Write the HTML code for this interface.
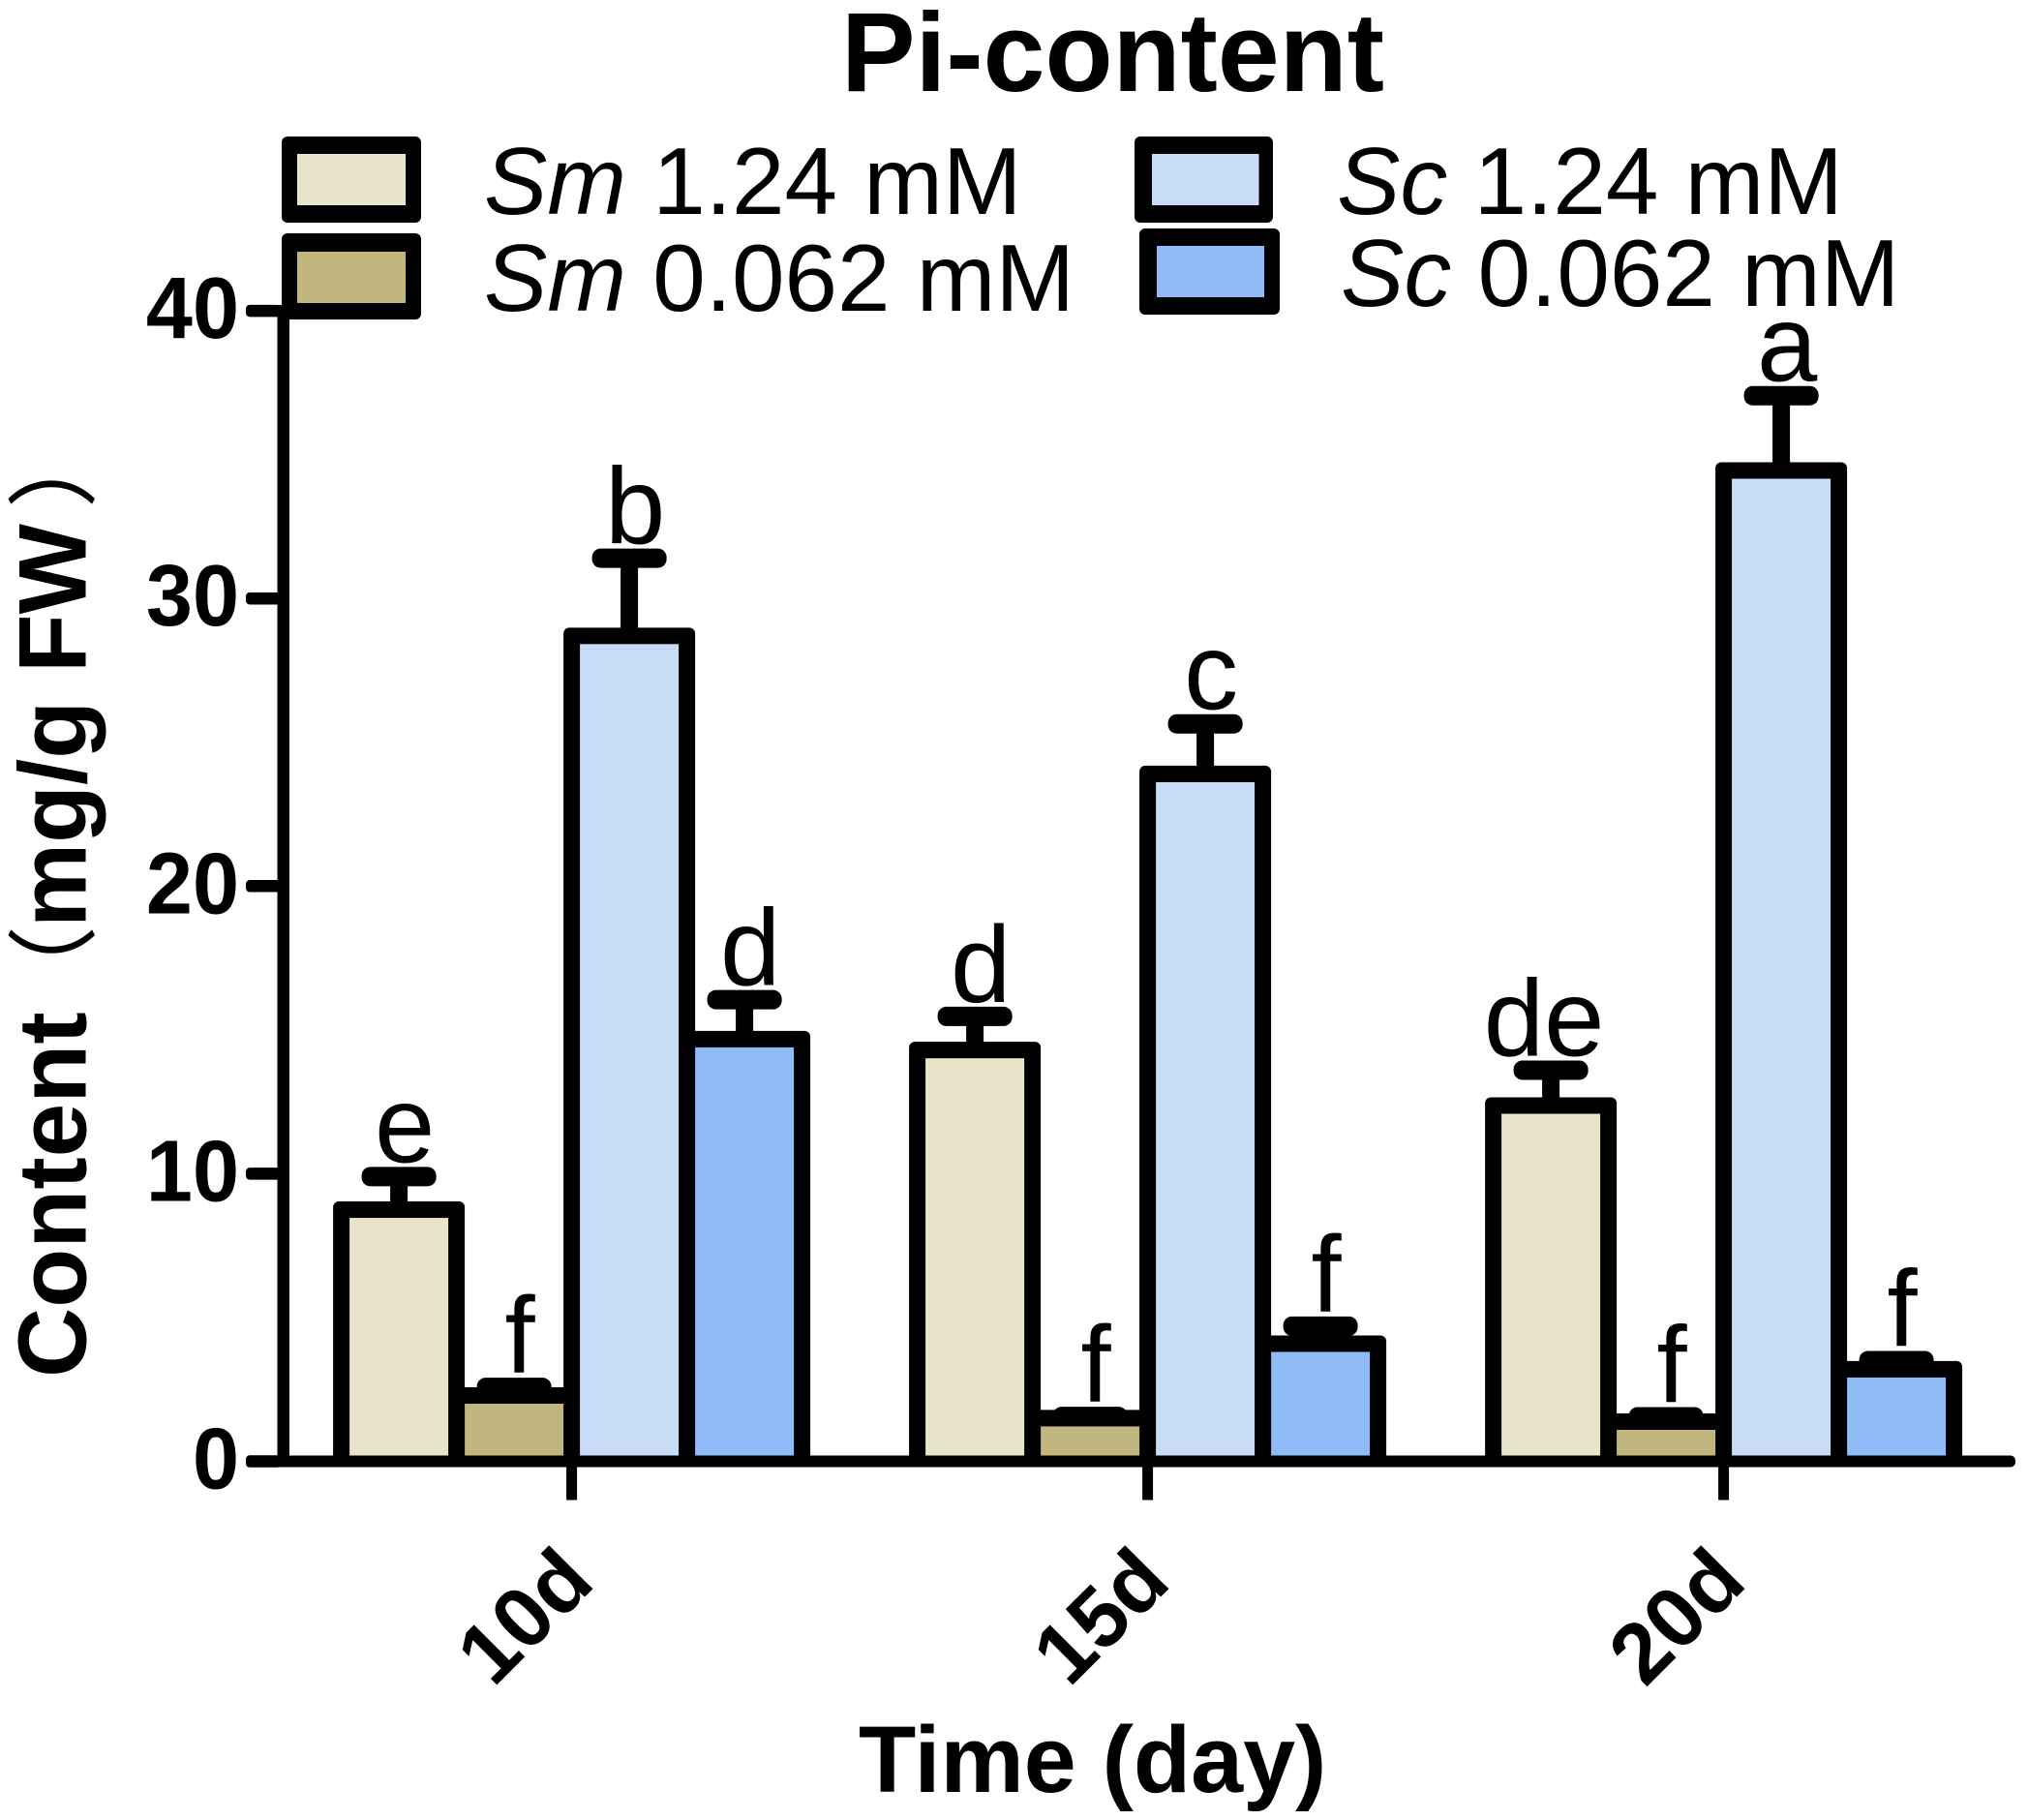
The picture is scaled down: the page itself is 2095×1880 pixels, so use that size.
<!DOCTYPE html>
<html lang="en">
<head>
<meta charset="utf-8">
<title>Pi-content</title>
<style>
html,body{margin:0;padding:0;background:#fff;}
svg{display:block;}
text{font-family:"Liberation Sans","Noto Sans CJK SC",sans-serif;fill:#000;}
.b{font-weight:700;}
</style>
</head>
<body>
<svg id="chart" xmlns="http://www.w3.org/2000/svg" width="2095" height="1880" viewBox="0 0 2095 1880">
  <rect x="0" y="0" width="2095" height="1880" fill="#ffffff"/>
  <text class="b" x="869" y="94" font-size="116" textLength="561" lengthAdjust="spacingAndGlyphs">Pi-content</text>
  <g id="axes"></g>
  <g id="marks"></g>
  <g id="legend">
    <g>
      <rect x="291" y="141" width="144" height="89" rx="6" fill="#000"/>
      <rect x="307" y="159" width="112" height="53" fill="#E8E4CA"/>
      <text x="500" y="221" font-size="98"><tspan font-style="italic">Sm</tspan> 1.24 mM</text>
    </g>
    <g>
      <rect x="291" y="241" width="144" height="89" rx="6" fill="#000"/>
      <rect x="307" y="260" width="112" height="53" fill="#C2B67F"/>
      <text x="500" y="321" font-size="98"><tspan font-style="italic">Sm</tspan> 0.062 mM</text>
    </g>
    <g>
      <rect x="1172" y="141" width="143" height="89" rx="6" fill="#000"/>
      <rect x="1190" y="159" width="110.5" height="53" fill="#C8DCF7"/>
      <text x="1381" y="221" font-size="98"><tspan font-style="italic">Sc</tspan> 1.24 mM</text>
    </g>
    <g>
      <rect x="1177" y="236" width="145" height="89" rx="6" fill="#000"/>
      <rect x="1195" y="254" width="111" height="53" fill="#8FBBF6"/>
      <text x="1385" y="316" font-size="98"><tspan font-style="italic">Sc</tspan> 0.062 mM</text>
    </g>
  </g>
  <text class="b" transform="translate(88.6,0) rotate(-90)" font-size="100"><tspan x="-1423">Content</tspan><tspan x="-1050" font-size="94" font-weight="400">（</tspan><tspan x="-958" font-size="98">mg/g</tspan><tspan x="-695" font-size="99">FW</tspan><tspan x="-525" font-size="94" font-weight="400">）</tspan></text>
  <text class="b" x="887" y="1851" font-size="97">Time (day)</text>
</svg>
<script>
const categories = ['10d', '15d', '20d'];
const yTickValues = [0, 10, 20, 30, 40];
const seriesNames = ['sm-1.24', 'sm-0.062', 'sc-1.24', 'sc-0.062'];

const sm124Values = [8.75, 14.3, 12.37];
const sm062Values = [2.29, 1.5, 1.38];
const sc124Values = [28.7, 23.9, 34.45];
const sc062Values = [14.68, 4.09, 3.2];

const sm124ErrorTops = [9.9, 15.47, 13.6];
const sm062ErrorTops = [2.57, 1.56, 1.55];
const sc124ErrorTops = [31.4, 25.64, 37.05];
const sc062ErrorTops = [16.05, 4.7, 3.5];

const sm124Letters = ['e', 'd', 'de'];
const sm062Letters = ['f', 'f', 'f'];
const sc124Letters = ['b', 'c', 'a'];
const sc062Letters = ['d', 'f', 'f'];

const seriesColors = ['#E8E4CA', '#C2B67F', '#C8DCF7', '#8FBBF6'];
const allValues = [sm124Values, sm062Values, sc124Values, sc062Values];
const allErrorTops = [sm124ErrorTops, sm062ErrorTops, sc124ErrorTops, sc062ErrorTops];
const allLetters = [sm124Letters, sm062Letters, sc124Letters, sc062Letters];

const NS = 'http://www.w3.org/2000/svg';
const Y0 = 1509.5;
const UNIT = 29.71;
const BAND_START = 590.6;
const BAND_STEP = 595;
const BAR_STEP = 119;
const STROKE = 17;

function yScale(v) { return Y0 - v * UNIT; }
function bandX(i) { return BAND_START + i * BAND_STEP; }
function barLeft(i, s) { return bandX(i) + (s - 2) * BAR_STEP; }

function mk(tag, attrs, parent) {
  const el = document.createElementNS(NS, tag);
  for (const k in attrs) el.setAttribute(k, attrs[k]);
  parent.appendChild(el);
  return el;
}

const axes = document.getElementById('axes');
const marks = document.getElementById('marks');

// bars: filled interiors and outlines
seriesNames.forEach(function (name, s) {
  categories.forEach(function (cat, i) {
    const left = barLeft(i, s);
    const top = yScale(allValues[s][i]);
    const errTop = yScale(allErrorTops[s][i]);
    const cx = left + BAR_STEP / 2;

    const stem = mk('rect', { x: cx - 9, y: errTop, width: 18, height: Math.max(0, top - errTop), fill: '#000' }, marks);
    
    

    const cap = mk('rect', { x: cx - 38.5, y: errTop - 10, width: 77, height: 20, rx: 9, fill: '#000' }, marks);
    
    

    const outline = mk('rect', { x: left - STROKE / 2, y: top - STROKE / 2, width: BAR_STEP + STROKE, height: Y0 - top + STROKE / 2, rx: 6, fill: '#000' }, marks);
    
    
  });
});
seriesNames.forEach(function (name, s) {
  categories.forEach(function (cat, i) {
    const left = barLeft(i, s);
    const top = yScale(allValues[s][i]);
    const fill = mk('rect', { x: left + STROKE / 2, y: top + STROKE / 2, width: BAR_STEP - STROKE, height: Math.max(0, Y0 - top - STROKE / 2), fill: seriesColors[s] }, marks);
    
    

    const word = allLetters[s][i];
    const labelX = left + BAR_STEP / 2 + (word.length > 1 ? -7 : 6);
    const label = mk('text', { x: labelX, y: yScale(allErrorTops[s][i]) - 15, 'font-size': 112, 'text-anchor': 'middle' }, marks);
    
    
    label.textContent = word;
  });
});

// y axis line and ticks
const yLine = mk('rect', { x: 286.5, y: yScale(40) - 6, width: 12.5, height: Y0 - yScale(40) + 12, fill: '#000' }, axes);



yTickValues.forEach(function (v) {
  const tick = mk('rect', { x: 254, y: yScale(v) - 6.25, width: 36, height: 12.5, rx: 4, fill: '#000' }, axes);
  
  
  const lab = mk('text', { transform: 'translate(247,' + (yScale(v) + 28) + ') scale(0.96,1)', 'font-size': 90, 'font-weight': 700, 'text-anchor': 'end' }, axes);
  
  
  lab.textContent = String(v);
});

// x axis: drawn above the bars
const xGroup = mk('g', {}, document.getElementById('chart'));



const xLine = mk('rect', { x: 254, y: Y0 - 6, width: 1828, height: 12, rx: 5, fill: '#000' }, xGroup);



categories.forEach(function (cat, i) {
  const tick = mk('rect', { x: bandX(i) - 5.5, y: Y0, width: 11, height: 40, fill: '#000' }, xGroup);
  
  
  const lab = mk('text', { transform: 'translate(' + (bandX(i) + 26) + ',1637) rotate(-45)', 'font-size': 88, 'font-weight': 700, 'text-anchor': 'end' }, xGroup);
  
  
  lab.textContent = cat;
});

// legend stays on top of the y axis
document.getElementById('chart').appendChild(document.getElementById('legend'));
</script>
</body>
</html>
